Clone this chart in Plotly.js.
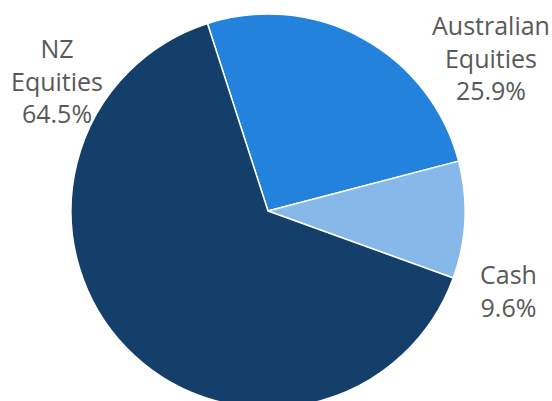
<!DOCTYPE html>
<html>
<head>
<meta charset="utf-8">
<script src="https://cdn.plot.ly/plotly-3.0.1.min.js"></script>
<style>
  html, body { margin: 0; padding: 0; overflow: hidden; background: #fff; }
  #chart { width: 552px; height: 420px; }
</style>
</head>
<body>
<div id="chart"></div>
<script>
const categories = ["Australian Equities", "Cash", "NZ Equities"];
const labelLines = [["Australian", "Equities"], ["Cash"], ["NZ", "Equities"]];
const values = [25.9, 9.6, 64.5];
const colors = ["#2383dc", "#86b9e9", "#143f6b"];

const labelPos = [
  { x: 0.890, y: 0.862 },
  { x: 0.922, y: 0.3095 },
  { x: 0.103, y: 0.8095 }
];

const annotations = categories.map((c, i) => ({
  xref: "paper", yref: "paper",
  x: labelPos[i].x, y: labelPos[i].y,
  xanchor: "center", yanchor: "middle",
  showarrow: false, align: "center",
  text: labelLines[i].concat([values[i].toFixed(1) + "%"]).join("<br>"),
  font: { family: "Open Sans, sans-serif", size: 25, color: "#595959" }
}));

const data = [{
  type: "pie",
  labels: categories,
  values: values,
  sort: false,
  direction: "clockwise",
  rotation: -17.9,
  marker: { colors: colors, line: { color: "#ffffff", width: 1.5 } },
  textinfo: "none",
  hoverinfo: "label+percent",
  domain: { x: [0.1286, 0.8424], y: [0.0286, 0.9667] }
}];

const layout = {
  width: 552, height: 420,
  margin: { l: 0, r: 0, t: 0, b: 0 },
  showlegend: false,
  paper_bgcolor: "#ffffff",
  annotations: annotations
};

Plotly.newPlot("chart", data, layout, { displayModeBar: false, staticPlot: true });
</script>
</body>
</html>
